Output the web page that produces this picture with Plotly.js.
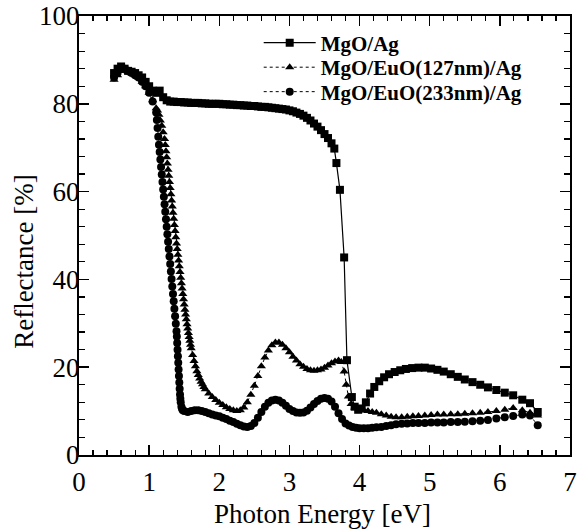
<!DOCTYPE html>
<html>
<head>
<meta charset="utf-8">
<script src="https://cdn.plot.ly/plotly-3.0.1.min.js"></script>
<style>html,body{margin:0;padding:0;background:#fff;}#chart{width:579px;height:529px;}</style>
</head>
<body>
<div id="chart"></div>
<script>
// ---- Data ----
const seriesNames = ["MgO/Ag", "MgO/EuO(127nm)/Ag", "MgO/EuO(233nm)/Ag"];
const xTitle = "Photon Energy [eV]";
const yTitle = "Reflectance [%]";

// MgO/Ag (squares)
const agX = [0.50,0.55,0.60,0.65,0.70,0.75,0.80,0.85,0.90,0.95,1.00,1.05,1.10,1.15,1.20,1.25,1.30,1.35,1.40,1.45,1.50,1.55,1.60,1.65,1.70,1.75,1.80,1.85,1.90,1.95,2.00,2.05,2.10,2.15,2.20,2.25,2.30,2.35,2.40,2.45,2.50,2.55,2.60,2.65,2.70,2.75,2.80,2.85,2.90,2.95,3.00,3.05,3.10,3.15,3.20,3.25,3.30,3.35,3.40,3.45,3.50,3.55,3.60,3.64,3.67,3.72,3.78,3.82,3.89,3.93,3.98,4.03,4.09,4.15,4.21,4.28,4.35,4.42,4.50,4.58,4.66,4.75,4.84,4.93,5.02,5.11,5.20,5.30,5.40,5.50,5.61,5.72,5.83,5.95,6.07,6.19,6.32,6.43,6.54];
const agY = [87.0,88.0,88.5,88.0,87.5,87.3,87.0,86.5,86.0,85.0,84.0,83.0,82.5,83.0,81.5,80.8,80.5,80.5,80.4,80.4,80.3,80.3,80.2,80.2,80.2,80.1,80.1,80.0,80.0,80.0,80.0,79.9,79.9,79.8,79.8,79.7,79.7,79.6,79.6,79.5,79.5,79.4,79.3,79.3,79.2,79.1,79.0,78.9,78.8,78.7,78.5,78.3,78.0,77.7,77.3,76.8,76.2,75.5,74.8,74.0,73.1,72.2,71.0,69.8,66.5,60.4,45.0,21.6,13.2,11.0,10.3,10.6,12.0,14.0,15.5,16.8,17.7,18.4,18.9,19.3,19.6,19.8,19.9,19.9,19.7,19.4,19.0,18.4,17.8,17.2,16.6,16.0,15.4,14.8,14.2,13.6,12.6,11.8,9.8];

// MgO/EuO(127nm)/Ag (triangles)
const e127X = [0.50,0.55,0.60,0.65,0.70,0.75,0.80,0.85,0.90,0.95,1.00,1.05,1.10,1.12,1.14,1.16,1.18,1.20,1.22,1.23,1.24,1.25,1.26,1.27,1.28,1.29,1.30,1.31,1.32,1.33,1.34,1.35,1.36,1.37,1.38,1.39,1.40,1.41,1.42,1.43,1.44,1.45,1.46,1.47,1.48,1.49,1.50,1.51,1.52,1.53,1.54,1.55,1.56,1.57,1.58,1.59,1.60,1.62,1.64,1.66,1.68,1.70,1.72,1.74,1.76,1.78,1.80,1.85,1.90,1.95,2.00,2.05,2.10,2.15,2.20,2.25,2.30,2.35,2.40,2.45,2.50,2.55,2.60,2.65,2.70,2.75,2.80,2.85,2.90,2.95,3.00,3.05,3.10,3.15,3.20,3.25,3.30,3.35,3.40,3.45,3.50,3.55,3.60,3.65,3.70,3.74,3.78,3.81,3.84,3.88,3.93,4.00,4.06,4.12,4.18,4.24,4.31,4.38,4.45,4.52,4.60,4.68,4.76,4.84,4.93,5.02,5.11,5.20,5.30,5.40,5.50,5.61,5.72,5.83,5.95,6.07,6.19,6.32,6.43,6.54];
const e127Y = [85.5,86.5,87.5,87.8,87.3,87.0,86.5,86.0,85.0,84.0,82.5,80.8,79.0,78.5,77.5,76.2,75.0,73.5,72.0,70.6,69.2,67.8,66.4,65.0,63.6,62.2,60.8,59.4,58.0,56.6,55.2,53.8,52.4,51.0,49.6,48.2,46.9,45.6,44.3,43.0,41.7,40.4,39.1,37.9,36.7,35.5,34.3,33.1,32.0,30.9,29.8,28.8,27.8,26.9,26.0,25.1,24.3,22.8,21.4,20.2,19.1,18.2,17.4,16.7,16.1,15.5,15.0,14.0,13.2,12.5,11.9,11.4,10.9,10.5,10.2,10.0,10.2,10.8,12.0,13.7,15.8,18.0,20.2,22.2,23.8,25.0,25.6,25.6,25.1,24.3,23.4,22.4,21.5,20.7,20.1,19.6,19.3,19.2,19.3,19.5,19.9,20.4,20.9,21.3,21.5,21.2,19.0,16.0,13.3,11.6,10.8,10.4,10.2,10.0,9.8,9.6,9.3,9.0,8.7,8.6,8.6,8.7,8.8,8.9,9.0,9.1,9.2,9.2,9.3,9.3,9.4,9.5,9.6,9.8,10.0,10.3,10.7,10.2,9.6,9.0];

// MgO/EuO(233nm)/Ag (circles)
const e233X = [0.50,0.55,0.60,0.65,0.70,0.75,0.80,0.85,0.90,0.95,1.00,1.05,1.10,1.11,1.12,1.13,1.14,1.15,1.16,1.17,1.18,1.19,1.20,1.21,1.22,1.23,1.24,1.25,1.26,1.27,1.28,1.29,1.30,1.31,1.32,1.33,1.34,1.35,1.36,1.37,1.38,1.39,1.395,1.40,1.405,1.41,1.415,1.42,1.425,1.43,1.435,1.44,1.445,1.45,1.46,1.47,1.48,1.50,1.55,1.60,1.65,1.70,1.75,1.80,1.85,1.90,1.95,2.00,2.05,2.10,2.15,2.20,2.25,2.30,2.35,2.40,2.45,2.50,2.55,2.60,2.65,2.70,2.75,2.80,2.85,2.90,2.95,3.00,3.05,3.10,3.15,3.20,3.25,3.30,3.35,3.40,3.45,3.50,3.55,3.60,3.65,3.70,3.75,3.80,3.85,3.90,3.95,4.00,4.06,4.12,4.18,4.24,4.31,4.38,4.45,4.52,4.60,4.68,4.76,4.84,4.93,5.02,5.11,5.20,5.30,5.40,5.50,5.61,5.72,5.83,5.95,6.07,6.19,6.32,6.43,6.54];
const e233Y = [86.0,87.0,88.0,88.0,87.5,87.0,86.5,86.0,85.0,84.0,82.5,80.5,78.0,76.3,74.5,72.5,70.7,69.0,67.3,65.6,63.9,62.2,60.5,58.8,57.1,55.4,53.7,52.0,50.3,48.6,46.9,45.2,43.5,41.8,40.1,38.4,36.7,35.0,33.3,31.6,29.9,28.2,27.0,25.5,24.0,22.5,21.0,19.5,18.0,16.5,15.1,13.8,12.8,12.0,11.0,10.5,10.2,10.0,9.8,10.0,10.2,10.2,10.0,9.8,9.5,9.2,9.0,8.8,8.5,8.2,7.8,7.5,7.1,6.8,6.5,6.4,6.6,7.3,8.5,9.8,11.0,11.9,12.4,12.6,12.4,11.9,11.2,10.5,10.0,9.7,9.6,9.7,10.1,10.8,11.6,12.3,12.8,13.0,12.8,12.2,11.0,9.5,8.2,7.2,6.7,6.4,6.2,6.1,6.1,6.1,6.2,6.3,6.4,6.6,6.8,7.0,7.1,7.2,7.3,7.3,7.3,7.4,7.4,7.4,7.5,7.5,7.6,7.7,7.8,8.0,8.3,8.6,8.9,9.2,9.0,6.8];

const xTickVals = [0,1,2,3,4,5,6,7];
const yTickVals = [0,20,40,60,80,100];

// ---- Plot ----
const serif = "'Times New Roman', 'Liberation Serif', Times, serif";
const traces = [
  {x: agX, y: agY, name: seriesNames[0], type: "scatter", mode: "lines+markers", legend: "legend",
   line: {color: "#000", width: 1.2, dash: "solid"},
   marker: {symbol: "square", size: 8, color: "#000"}},
  {x: e127X, y: e127Y, name: seriesNames[1], type: "scatter", mode: "lines+markers", legend: "legend2",
   line: {color: "#000", width: 1, dash: "dot"},
   marker: {symbol: "triangle-up", size: 8, color: "#000"}},
  {x: e233X, y: e233Y, name: seriesNames[2], type: "scatter", mode: "lines+markers", legend: "legend3",
   line: {color: "#000", width: 1, dash: "dot"},
   marker: {symbol: "circle", size: 8, color: "#000"}}
];

const tickFont = {family: serif, size: 27, color: "#000", weight: "normal"};
const axisCommon = {
  showline: true, linecolor: "#000", linewidth: 2, mirror: "ticks",
  ticks: "inside", ticklen: 10, tickwidth: 1.5, tickcolor: "#000",
  showgrid: false, zeroline: false,
  tickfont: tickFont
};

const legFont = {family: serif, size: 21, color: "#000", weight: "bold"};
function leg(yv) {
  return {x: 0.366, y: yv, xanchor: "left", yanchor: "middle", bgcolor: "rgba(0,0,0,0)",
          font: legFont, itemwidth: 52, borderwidth: 0};
}

const layout = {
  width: 579, height: 529,
  margin: {l: 79, r: 9, t: 16, b: 74},
  paper_bgcolor: "#fff", plot_bgcolor: "#fff",
  font: {family: serif, color: "#000"},
  showlegend: true,
  legend: leg(0.9385),
  legend2: leg(0.8826),
  legend3: leg(0.8269),
  xaxis: Object.assign({}, axisCommon, {
    range: [0, 7], tickvals: xTickVals, ticktext: xTickVals.map(String),
    minor: {dtick: 0.2, ticklen: 5, tickwidth: 1.2, tickcolor: "#000", ticks: "inside"},
    ticklabelstandoff: 2
  }),
  yaxis: Object.assign({}, axisCommon, {
    range: [0, 100], tickvals: yTickVals, ticktext: yTickVals.map(String),
    minor: {dtick: 4, ticklen: 6, tickwidth: 1.2, tickcolor: "#000", ticks: "inside"},
    ticklabelstandoff: -8
  }),
  annotations: [
    {text: yTitle, xref: "paper", yref: "paper", x: -0.112, y: 0.44,
     xanchor: "center", yanchor: "middle", textangle: -90, showarrow: false,
     font: {family: serif, size: 27, color: "#000"}},
    {text: xTitle, xref: "paper", yref: "paper", x: 0.495, y: -0.1333,
     xanchor: "center", yanchor: "middle", showarrow: false, borderpad: 0,
     font: {family: serif, size: 27, color: "#000"}}
  ]
};

Plotly.newPlot("chart", traces, layout, {staticPlot: true, displayModeBar: false});
</script>
</body>
</html>
